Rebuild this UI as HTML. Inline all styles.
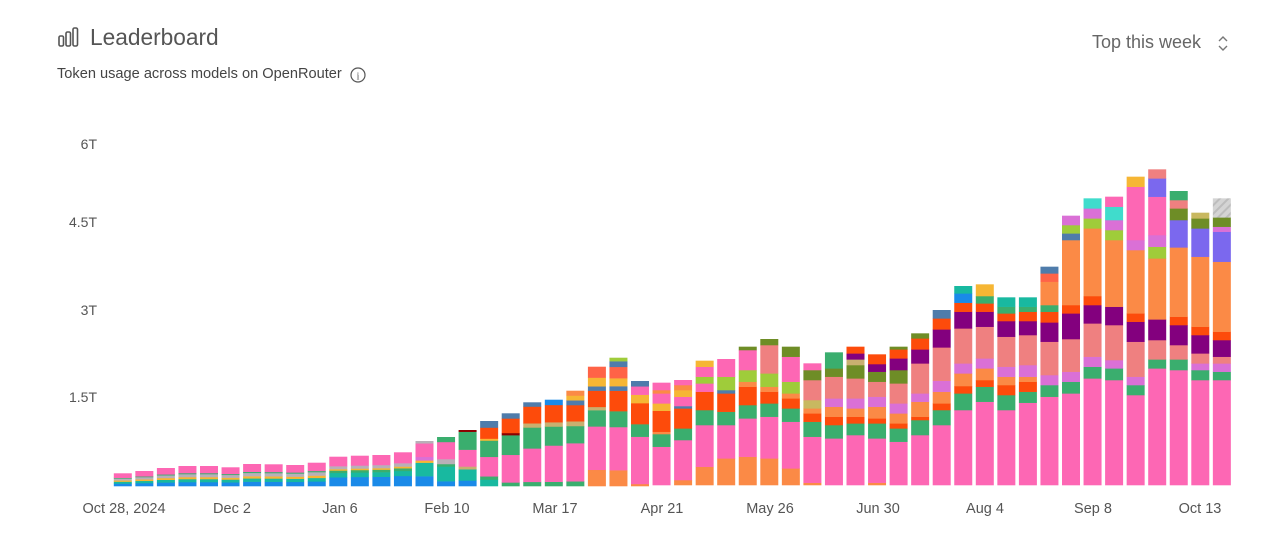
<!DOCTYPE html>
<html><head><meta charset="utf-8">
<style>
body{margin:0;background:#fff;width:1280px;height:544px;overflow:hidden;font-family:"Liberation Sans",sans-serif;}
.t{position:absolute;color:#555;white-space:nowrap}
</style></head><body>
<svg width="1280" height="544" style="position:absolute;left:0;top:0" id="s" xmlns="http://www.w3.org/2000/svg">
<defs><pattern id="h" width="6" height="6" patternUnits="userSpaceOnUse" patternTransform="rotate(45)"><rect width="6" height="6" fill="#d4d4d4"/><rect width="2" height="6" fill="#bdbdbd"/></pattern></defs>
<g fill="none" stroke="#555" stroke-width="1.6">
<rect x="59" y="36" width="4.5" height="10" rx="1.5"/><rect x="66" y="32" width="4.5" height="14" rx="1.5"/><rect x="73" y="28" width="4.5" height="18" rx="1.5"/>
<circle cx="358" cy="75" r="7" stroke-width="1.2"/>
<path d="M1219 41 l4 -4 l4 4 M1219 46 l4 4 l4 -4" stroke="#777" stroke-width="1.4"/>
</g>
<text x="358" y="79.5" font-size="10" fill="#555" text-anchor="middle" font-family="Liberation Serif">i</text>
<g font-size="14" fill="#555" text-anchor="end">
<text x="97" y="149">6T</text><text x="97" y="227">4.5T</text><text x="97" y="315">3T</text><text x="97" y="402">1.5T</text>
</g>
<g font-size="14.5" fill="#555" text-anchor="middle" id="xl">
<text x="124" y="513">Oct 28, 2024</text><text x="232" y="513">Dec 2</text><text x="340" y="513">Jan 6</text><text x="447" y="513">Feb 10</text><text x="555" y="513">Mar 17</text><text x="662" y="513">Apr 21</text><text x="770" y="513">May 26</text><text x="878" y="513">Jun 30</text><text x="985" y="513">Aug 4</text><text x="1093" y="513">Sep 8</text><text x="1200" y="513">Oct 13</text>
</g>
<g id="bars"></g>
</svg>
<div class="t" style="left:90px;top:24px;font-size:22.7px;">Leaderboard</div>
<div class="t" style="left:57px;top:66px;font-size:14.6px;color:#444">Token usage across models on OpenRouter</div>
<div class="t" style="left:1092px;top:32px;font-size:18px;color:#666">Top this week</div>
<script>
var C={pk:"#fd67b4",or:"#fb8a46",gr:"#3aae6e",sa:"#ef8080",pu:"#83007e",ro:"#fd4b0b",ol:"#6e8d26",yg:"#9fcc3a",oc:"#da70d6",bl:"#1a8ae8",te:"#18b9a0",tq:"#40dccc",sb:"#7b68ee",go:"#f6b634",st:"#4f7cab",gy:"#b8b0b8",li:"#c79ac6",ta:"#c8b070",dr:"#8b0000",tm:"#ff6347",kh:"#c8b860",hz:"url(#h)"};
var H1=[12.7,15,18,20,20,18.7,22,21.7,21,23.3,29.3,30.3,31,33.7,45,49,56,65,72.7,83.7,86.3,95.3,119.3,128.3,105];
var F=[];
for(var i=0;i<10;i++)F.push([["bl",.2],["te",.15],["go",.1],["gy",.15],["gr",.05],["pk",.35]]);
for(i=10;i<14;i++)F.push([["bl",.3],["te",.15],["gr",.08],["go",.05],["gy",.1],["pk",.32]]);
F.push([["bl",.22],["te",.3],["go",.05],["oc",.08],["pk",.3],["gy",.05]]);
F.push([["bl",.1],["te",.3],["gr",.05],["gy",.1],["pk",.35],["gr",.1]]);
F.push([["bl",.1],["te",.2],["ta",.05],["pk",.3],["gr",.32],["dr",.03]]);
F.push([["te",.1],["gr",.05],["pk",.3],["gr",.25],["go",.03],["ro",.17],["st",.1]]);
F.push([["gr",.05],["pk",.38],["gr",.27],["dr",.03],["ro",.2],["st",.07]]);
F.push([["gr",.05],["pk",.4],["gr",.25],["ta",.05],["ro",.2],["st",.05]]);
F.push([["gr",.05],["pk",.42],["gr",.22],["ta",.05],["ro",.2],["bl",.06]]);
F.push([["gr",.05],["pk",.4],["gr",.18],["ta",.05],["ro",.17],["st",.05],["go",.05],["or",.05]]);
F.push([["or",.15],["pk",.4],["gr",.15],["ta",.03],["ro",.15],["st",.04],["go",.08],["tm",.1]]);
F.push([["or",.14],["pk",.38],["gr",.14],["ro",.18],["st",.04],["go",.07],["tm",.1],["st",.05],["yg",.03]]);
F.push([["or",.02],["pk",.45],["gr",.12],["ro",.2],["go",.08],["pk",.08],["st",.05]]);
var Z=[
[["pk",860],["gr",822],["or",815],["ro",752],["go",730],["pk",700],["or",690],["pk",668]],
[["or",960],["pk",840],["gr",805],["ro",745],["st",738],["pk",710],["go",690],["or",675],["pk",660]],
[["or",920],["pk",795],["gr",750],["ro",695],["pk",670],["yg",650],["pk",620],["go",602]],
[["or",895],["pk",795],["gr",755],["ro",700],["st",690],["yg",650],["pk",597]],
[["or",890],["pk",775],["gr",735],["ro",680],["or",665],["yg",630],["pk",570],["ol",560]],
[["or",895],["pk",770],["gr",730],["ro",695],["or",680],["yg",640],["sa",555],["ol",537]],
[["or",925],["pk",785],["gr",745],["ro",715],["or",700],["yg",665],["pk",590],["ol",560]],
[["or",968],["pk",830],["gr",785],["ro",760],["or",745],["kh",720],["sa",660],["ol",630],["pk",610]],
[["pk",835],["gr",795],["ro",770],["or",740],["oc",715],["sa",650],["ol",625],["gr",577]],
[["pk",825],["gr",790],["ro",770],["or",745],["oc",715],["sa",655],["ol",615],["ta",598],["pu",580],["ro",560]],
[["or",968],["pk",835],["gr",790],["ro",775],["or",740],["oc",710],["sa",665],["ol",635],["pu",612],["ro",583]],
[["pk",845],["gr",805],["ro",790],["or",760],["oc",730],["sa",670],["ol",630],["pu",595],["ro",568],["ol",560]],
[["pk",825],["gr",780],["ro",770],["or",725],["oc",700],["sa",610],["pu",568],["ro",535],["ol",520]],
[["pk",795],["gr",750],["ro",730],["or",695],["oc",662],["sa",562],["pu",508],["ro",475],["st",450]],
[["pk",750],["gr",700],["ro",678],["or",640],["oc",610],["sa",505],["pu",455],["ro",428],["bl",400],["te",378]],
[["pk",725],["gr",680],["ro",660],["or",625],["oc",595],["sa",500],["pu",455],["ro",430],["gr",408],["go",373]],
[["pk",750],["gr",705],["ro",675],["or",650],["oc",620],["sa",530],["pu",483],["ro",460],["gr",440],["te",412]],
[["pk",728],["gr",695],["ro",665],["or",650],["oc",615],["sa",525],["pu",483],["ro",455],["gr",440],["te",412]],
[["pk",710],["gr",675],["oc",645],["sa",545],["pu",487],["ro",455],["gr",435],["or",365],["tm",340],["st",320]],
[["pk",700],["gr",665],["oc",635],["sa",537],["pu",460],["ro",435],["or",240],["st",220],["yg",195],["oc",167]],
[["pk",655],["gr",620],["oc",590],["sa",490],["pu",435],["ro",408],["or",205],["yg",175],["oc",145],["tq",115]],
[["pk",660],["gr",625],["oc",600],["sa",495],["pu",440],["or",240],["yg",210],["oc",180],["tq",140],["pk",110]],
[["pk",705],["gr",675],["oc",650],["sa",545],["pu",485],["ro",460],["or",270],["oc",240],["pk",80],["go",50]],
[["pk",625],["gr",598],["sa",540],["pu",478],["or",295],["yg",260],["oc",225],["pk",110],["sb",55],["sa",28]],
[["pk",630],["gr",598],["sa",555],["pu",495],["ro",470],["or",262],["sb",180],["ol",145],["sa",120],["gr",93]],
[["pk",660],["gr",630],["oc",610],["sa",580],["pu",525],["ro",500],["or",290],["sb",205],["ol",175],["kh",158]],
[["pk",660],["gr",635],["oc",610],["sa",590],["pu",540],["ro",515],["or",305],["sb",215],["oc",200],["ol",172],["hz",115]]
];
var out="",base=486,x0=113.8,p=21.55,w=18;
function rect(x,y,h,c){if(h<=0)return;out+='<rect x="'+x.toFixed(2)+'" y="'+y.toFixed(2)+'" width="'+w+'" height="'+(h+0.3).toFixed(2)+'" fill="'+C[c]+'"/>';}
for(i=0;i<25;i++){var fs=F[i],s=0;fs.forEach(function(a){s+=a[1]});var y=base,x=x0+i*p;
 fs.forEach(function(a){var h=a[1]/s*H1[i];y-=h;rect(x,y,h,a[0]);});}
for(i=0;i<27;i++){var x=x0+(25+i)*p,prev=975;
 Z[i].forEach(function(a){var yt=160+a[1]/3,yb=160+prev/3;rect(x,yt,yb-yt,a[0]);prev=a[1];});}
document.getElementById("bars").innerHTML=out;
</script>
</body></html>
